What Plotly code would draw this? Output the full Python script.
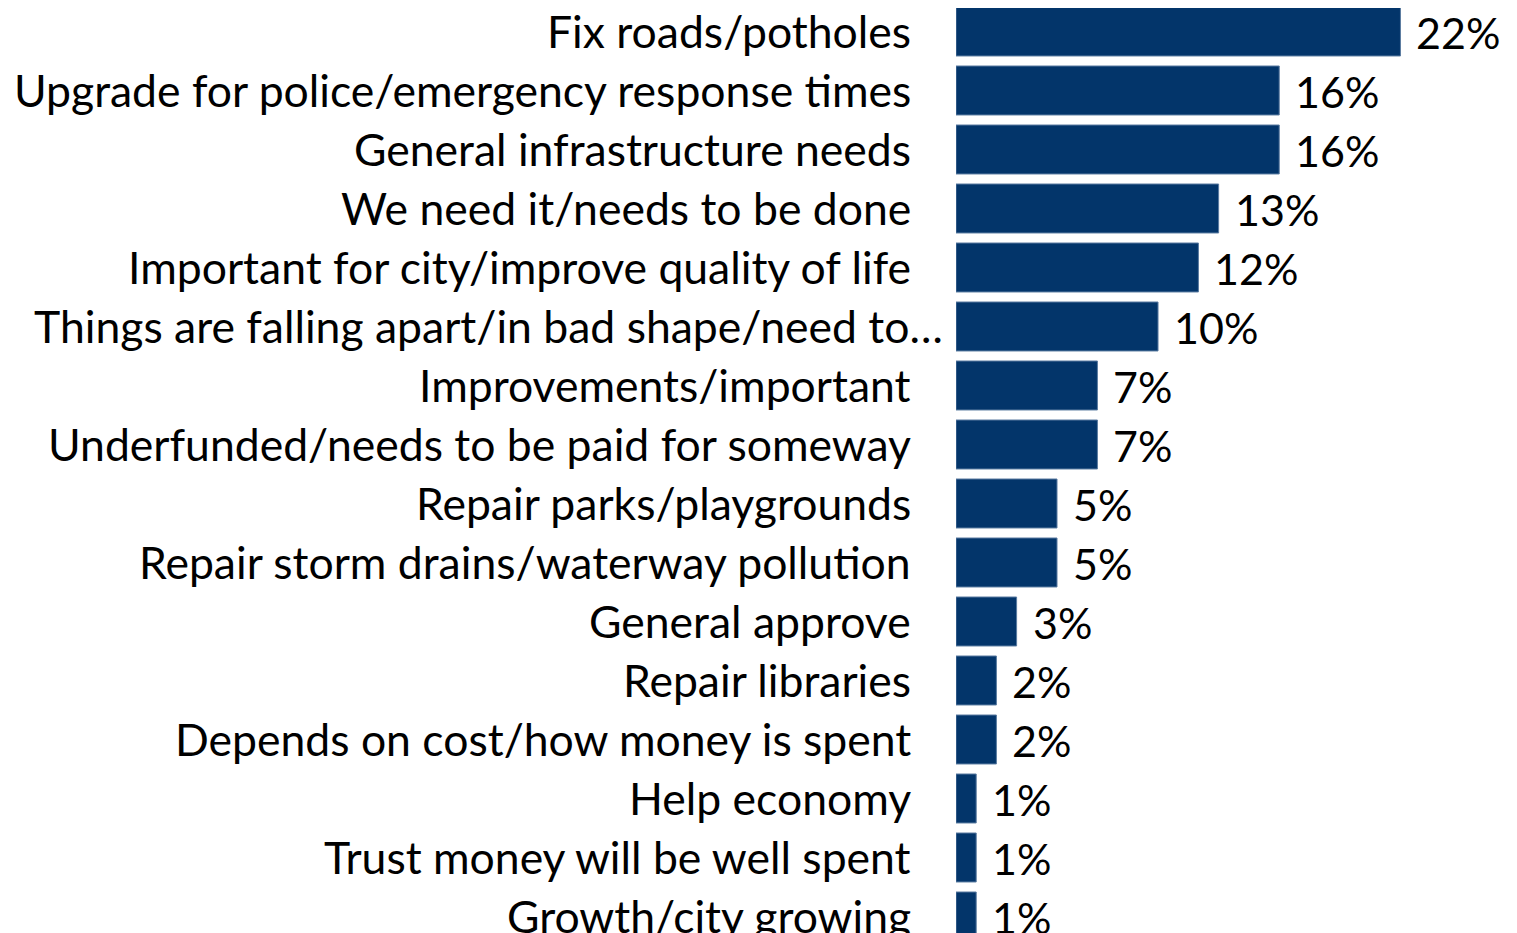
import plotly.graph_objects as go

categories = [
    "Fix roads/potholes",
    "Upgrade for police/emergency response times",
    "General infrastructure needs",
    "We need it/needs to be done",
    "Important for city/improve quality of life",
    "Things are falling apart/in bad shape/need to…",
    "Improvements/important",
    "Underfunded/needs to be paid for someway",
    "Repair parks/playgrounds",
    "Repair storm drains/waterway pollution",
    "General approve",
    "Repair libraries",
    "Depends on cost/how money is spent",
    "Help economy",
    "Trust money will be well spent",
    "Growth/city growing",
]
values = [22, 16, 16, 13, 12, 10, 7, 7, 5, 5, 3, 2, 2, 1, 1, 1]

BAR = "#03356A"
FONT = "Lato"
LSIZE = 44.5
VSIZE = 43

fig = go.Figure()
fig.add_trace(go.Bar(
    x=values,
    y=categories,
    orientation="h",
    marker=dict(color=BAR, line=dict(color="#5A7BA0", width=1)),
    width=0.83,
    hoverinfo="skip",
))

for c in categories:
    shift = -11 if c.endswith("…") else -43
    fig.add_annotation(
        x=0, xref="paper", y=c, yref="y",
        text=c, showarrow=False, xanchor="right", xshift=shift, yshift=1,
        font=dict(family=FONT, size=LSIZE, color="#000000"),
    )

for c, v in zip(categories, values):
    fig.add_annotation(
        x=v, xref="x", y=c, yref="y",
        text=f"{v}%", showarrow=False, xanchor="left", xshift=14, yshift=-1,
        font=dict(family=FONT, size=VSIZE, color="#000000"),
    )

fig.update_layout(
    width=1509, height=925,
    margin=dict(l=948, r=0, t=0, b=0),
    paper_bgcolor="white", plot_bgcolor="white",
    showlegend=False,
)
fig.update_xaxes(range=[0, 27.77], visible=False, fixedrange=True)
fig.update_yaxes(
    categoryorder="array", categoryarray=categories,
    range=[15.28, -0.398], showticklabels=False, showgrid=False,
    zeroline=False, showline=False, fixedrange=True,
)

fig.write_html("out.html")
